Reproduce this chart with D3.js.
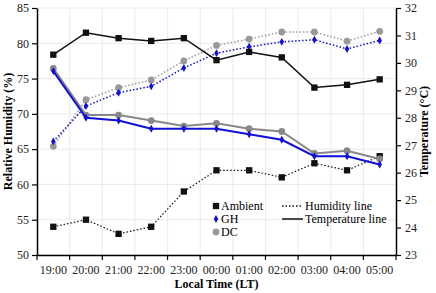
<!DOCTYPE html>
<html>
<head>
<meta charset="utf-8">
<script src="https://cdn.jsdelivr.net/npm/d3@7"></script>
<style>
  body { margin: 0; background: #fff; }
</style>
</head>
<body>
<div id="chart"></div>
<script>
var times = ["19:00","20:00","21:00","22:00","23:00","00:00","01:00","02:00","03:00","04:00","05:00"];

// humidity (%) - dotted lines, left axis
var humAmbient = [54, 55, 53, 54, 59, 62, 62, 61, 63, 62, 64];
var humGH      = [66.1, 71.1, 73.0, 73.9, 76.5, 78.6, 79.5, 80.2, 80.5, 79.2, 80.4];
var humDC      = [65.4, 72.0, 73.7, 74.8, 77.5, 79.7, 80.6, 81.6, 81.6, 80.3, 81.7];

// temperature (°C) - solid lines, right axis
var tempAmbient = [30.3, 31.1, 30.9, 30.8, 30.9, 30.1, 30.4, 30.2, 29.1, 29.2, 29.4];
var tempGH      = [29.7, 28.0, 27.9, 27.6, 27.6, 27.6, 27.4, 27.2, 26.6, 26.6, 26.3];
var tempDC      = [29.8, 28.1, 28.1, 27.9, 27.7, 27.8, 27.6, 27.5, 26.7, 26.8, 26.5];

var humTicks = [50, 55, 60, 65, 70, 75, 80, 85];
var tempTicks = [23, 24, 25, 26, 27, 28, 29, 30, 31, 32];

var FONT = "Liberation Serif, DejaVu Serif, serif";

function init() {
    var w = 436, h = 293;
    var pl = 37, pr = 396, pt = 8, pb = 255;

    var svg = d3.select("#chart").append("svg")
        .attr("width", w)
        .attr("height", h)
        .attr("font-family", FONT);

    var x = d3.scaleBand().domain(times).range([pl, pr]);
    var yH = d3.scaleLinear().domain([50, 85]).range([pb, pt]);
    var yT = d3.scaleLinear().domain([23, 32]).range([pb, pt]);

    // grid
    svg.append("g").selectAll("line")
        .data(humTicks)
        .enter().append("line")
        .attr("x1", pl).attr("x2", pr)
        .attr("y1", function(d){ return yH(d); })
        .attr("y2", function(d){ return yH(d); })
        .attr("stroke", "#e6e6e6").attr("stroke-width", 0.8);

    svg.append("g").selectAll("line")
        .data(times.slice(1))
        .enter().append("line")
        .attr("x1", function(d){ return x(d); })
        .attr("x2", function(d){ return x(d); })
        .attr("y1", pt).attr("y2", pb)
        .attr("stroke", "#e6e6e6").attr("stroke-width", 0.8);

    // axes
    var xAxis = svg.append("g")
        .attr("transform", "translate(0," + pb + ")")
        .call(d3.axisBottom(x).tickSize(0).tickPadding(10))
        .attr("font-family", FONT);
    xAxis.select(".domain").attr("stroke", "#000").attr("stroke-width", 1.5);
    xAxis.selectAll("text").attr("font-size", 12).attr("fill", "#222");
    // tick marks at band boundaries
    xAxis.selectAll(".bnd")
        .data(times.concat(["end"]))
        .enter().append("line")
        .attr("class", "bnd")
        .attr("x1", function(d, i){ return pl + i * x.step(); })
        .attr("x2", function(d, i){ return pl + i * x.step(); })
        .attr("y1", 0).attr("y2", 5)
        .attr("stroke", "#000").attr("stroke-width", 1.2);

    var lAxis = svg.append("g")
        .attr("transform", "translate(" + pl + ",0)")
        .call(d3.axisLeft(yH).tickValues(humTicks).tickSize(5).tickSizeOuter(0).tickPadding(3))
        .attr("font-family", FONT);
    lAxis.select(".domain").attr("stroke", "#000").attr("stroke-width", 1.5);
    lAxis.selectAll("line").attr("stroke", "#000").attr("stroke-width", 1.2);
    lAxis.selectAll("text").attr("font-size", 12).attr("fill", "#222");

    var rAxis = svg.append("g")
        .attr("transform", "translate(" + pr + ",0)")
        .call(d3.axisRight(yT).tickValues(tempTicks).tickSize(5).tickSizeOuter(0).tickPadding(4))
        .attr("font-family", FONT);
    rAxis.select(".domain").attr("stroke", "#000").attr("stroke-width", 1.5);
    rAxis.selectAll("line").attr("stroke", "#000").attr("stroke-width", 1.2);
    rAxis.selectAll("text").attr("font-size", 12).attr("fill", "#222");

    // titles
    svg.append("text")
        .attr("transform", "translate(12," + ((pt + pb) / 2) + ") rotate(-90)")
        .attr("text-anchor", "middle")
        .attr("font-size", 12).attr("font-weight", "bold")
        .text("Relative Humidity (%)");

    svg.append("text")
        .attr("transform", "translate(428," + ((pt + pb) / 2) + ") rotate(-90)")
        .attr("text-anchor", "middle")
        .attr("font-size", 12).attr("font-weight", "bold")
        .text("Temperature (°C)");

    svg.append("text")
        .attr("x", (pl + pr) / 2).attr("y", 288)
        .attr("text-anchor", "middle")
        .attr("font-size", 12).attr("font-weight", "bold")
        .text("Local Time (LT)");

    var cx = function(d, i){ return x(times[i]) + x.bandwidth() / 2; };

    var series = [
        { vals: humAmbient, y: yH, color: "#111", shape: "square", dash: "1.5,2", w: 1.2 },
        { vals: humDC, y: yH, color: "#999", shape: "circle", dash: "1.5,2", w: 1.5 },
        { vals: humGH, y: yH, color: "#1010d8", shape: "diamond", dash: "1.5,2", w: 1.5 },
        { vals: tempAmbient, y: yT, color: "#111", shape: "square", dash: null, w: 1.5 },
        { vals: tempDC, y: yT, color: "#888", shape: "circle", dash: null, w: 2 },
        { vals: tempGH, y: yT, color: "#1010d8", shape: "diamond", dash: null, w: 2 }
    ];

    function symbolFor(shape) {
        if (shape == "square") return d3.symbol().type(d3.symbolSquare).size(40);
        if (shape == "circle") return d3.symbol().type(d3.symbolCircle).size(36);
        return d3.symbol().type(d3.symbolDiamond).size(18);
    }

    series.forEach(function(s) {
        var line = d3.line()
            .x(function(d, i){ return cx(d, i); })
            .y(function(d){ return s.y(d); });
        svg.append("path")
            .datum(s.vals)
            .attr("d", line)
            .attr("fill", "none")
            .attr("stroke", s.color)
            .attr("stroke-width", s.w)
            .attr("stroke-dasharray", s.dash);
        svg.append("g").selectAll("path")
            .data(s.vals)
            .enter().append("path")
            .attr("d", symbolFor(s.shape))
            .attr("transform", function(d, i){ return "translate(" + cx(d, i) + "," + s.y(d) + ")"; })
            .attr("fill", s.color);
    });

    // legend
    var leg = svg.append("g");
    var legItems = [
        { label: "Ambient", color: "#111", shape: "square", y: 206 },
        { label: "GH", color: "#1010d8", shape: "diamond", y: 219 },
        { label: "DC", color: "#999", shape: "circle", y: 232 }
    ];
    leg.selectAll("path")
        .data(legItems)
        .enter().append("path")
        .attr("d", function(d){ return symbolFor(d.shape)(); })
        .attr("transform", function(d){ return "translate(216," + d.y + ")"; })
        .attr("fill", function(d){ return d.color; });
    leg.selectAll("text.a")
        .data(legItems)
        .enter().append("text")
        .attr("class", "a")
        .attr("x", 221).attr("y", function(d){ return d.y + 4; })
        .attr("font-size", 12)
        .text(function(d){ return d.label; });

    var lineItems = [
        { label: "Humidity line", dash: "1.5,2", y: 206 },
        { label: "Temperature line", dash: null, y: 219 }
    ];
    leg.selectAll("line")
        .data(lineItems)
        .enter().append("line")
        .attr("x1", 282).attr("x2", 303)
        .attr("y1", function(d){ return d.y; })
        .attr("y2", function(d){ return d.y; })
        .attr("stroke", "#111").attr("stroke-width", 1.5)
        .attr("stroke-dasharray", function(d){ return d.dash; });
    leg.selectAll("text.b")
        .data(lineItems)
        .enter().append("text")
        .attr("class", "b")
        .attr("x", 305).attr("y", function(d){ return d.y + 4; })
        .attr("font-size", 12)
        .text(function(d){ return d.label; });
}
window.onload = init;
</script>
</body>
</html>
